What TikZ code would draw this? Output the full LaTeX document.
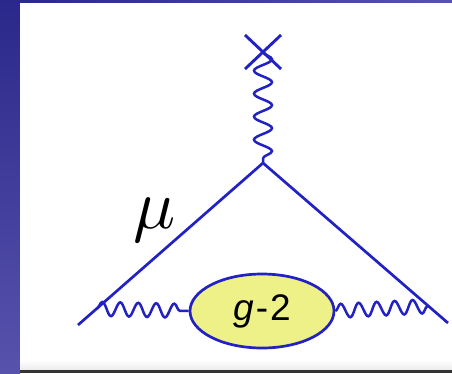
\documentclass[tikz,border=0pt]{standalone}
\usepackage{fontspec}
\newfontfamily\arialfont{Liberation Sans}
\usetikzlibrary{decorations.pathmorphing,calc,shapes.geometric}
\definecolor{feyn}{HTML}{2222C4}
\definecolor{bgtop}{HTML}{2A288A}
\definecolor{bgbot}{HTML}{5753AC}
\definecolor{blobfill}{HTML}{EEF088}
\tikzset{
  fermion/.style={draw=feyn, line width=2.7pt},
  photon/.style={draw=feyn, line width=2.5pt, decorate, decoration={snake, amplitude=#1}},
  blob/.style={ellipse, draw=feyn, line width=2.7pt, fill=blobfill, minimum width=144pt, minimum height=74pt, inner sep=0pt, font=\arialfont\fontsize{37}{37}\selectfont},
}
\begin{document}
\begin{tikzpicture}[x=1pt,y=-1pt]
\useasboundingbox (0,0) rectangle (452,373);
% background
\shade[top color=bgtop, bottom color=bgbot] (0,0) rectangle (20,373);
\shade[left color=bgtop, right color=bgbot] (20,0) rectangle (452,2.5);
\fill[white] (20,2.5) rectangle (452,370);
\shade[top color=white, bottom color=black!8] (20,360) rectangle (452,370);
\fill[black!80] (20,370) rectangle (452,373);
% points
\coordinate (v) at (263,163);
\coordinate (cross) at (263,52);
\coordinate (l) at (78,325);
\coordinate (r) at (448,323);
\coordinate (pl) at ($(v)!0.9!(l)$);
\coordinate (pr) at ($(v)!0.895!(r)$);
\node[blob] (g2) at (262,311) {\itshape g\kern2pt\upshape-\kern2pt2};
% fermion lines
\draw[fermion] (l) -- (v) -- (r);
% external photon
\draw[photon=9pt, decoration={segment length=23pt}] (cross) -- (v);
\draw[fermion, line width=2.9pt] ($(cross)+(-18,-17)$) -- ($(cross)+(18,17)$);
\draw[fermion, line width=2.9pt] ($(cross)+(-18,17)$) -- ($(cross)+(18,-17)$);
% internal photons
\draw[photon=7pt, decoration={segment length=18pt}] (pl) -- (g2.west);
\draw[photon=7pt, decoration={segment length=18pt}] (g2.east) -- (pr);
% label
\node[scale=7] (mu) at (155,220) {$\mu$};
\end{tikzpicture}
\end{document}
